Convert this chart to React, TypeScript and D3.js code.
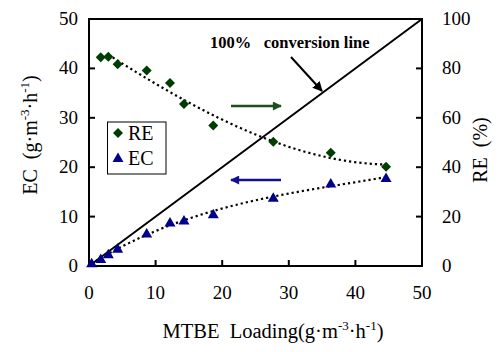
import React from "react";
import * as d3 from "d3";

const reLoading = [1.76, 2.9, 4.3, 8.66, 12.16, 14.26, 18.66, 27.67, 36.3, 44.6];
const reValues = [84.5, 84.7, 81.7, 79.2, 74.1, 65.6, 56.9, 50.3, 45.9, 40.2];
const ecLoading = [0.4, 1.76, 2.9, 4.3, 8.66, 12.16, 14.26, 18.66, 27.67, 36.3, 44.6];
const ecValues = [0.55, 1.4, 2.37, 3.5, 6.6, 8.8, 9.2, 10.5, 13.8, 16.7, 17.8];
const xTicks = [0, 10, 20, 30, 40, 50];
const ecTicks = [0, 10, 20, 30, 40, 50];
const reTicks = [0, 20, 40, 60, 80, 100];

function polyFit(xs: number[], ys: number[], deg: number): number[] {
  const n = deg + 1;
  const A: number[][] = Array.from({ length: n }, () => new Array(n + 1).fill(0));
  for (let i = 0; i < xs.length; i++) {
    for (let r = 0; r < n; r++) {
      for (let c = 0; c < n; c++) A[r][c] += Math.pow(xs[i], r + c);
      A[r][n] += ys[i] * Math.pow(xs[i], r);
    }
  }
  for (let col = 0; col < n; col++) {
    let piv = col;
    for (let r = col + 1; r < n; r++) if (Math.abs(A[r][col]) > Math.abs(A[piv][col])) piv = r;
    [A[col], A[piv]] = [A[piv], A[col]];
    for (let r = 0; r < n; r++) {
      if (r === col) continue;
      const f = A[r][col] / A[col][col];
      for (let c = col; c <= n; c++) A[r][c] -= f * A[col][c];
    }
  }
  return A.map((row, i) => row[n] / row[i]);
}
const evalPoly = (co: number[], x: number) => co.reduce((s, c, i) => s + c * Math.pow(x, i), 0);

const FONT = "Liberation Serif, Times New Roman, DejaVu Serif, serif";

export default function App() {
  const W = 498, H = 352;
  const L = 89, R = 422, T = 19, B = 266;
  const x = d3.scaleLinear().domain([0, 50]).range([L, R]);
  const yL = d3.scaleLinear().domain([0, 50]).range([B, T]);
  const yR = d3.scaleLinear().domain([0, 100]).range([B, T]);

  const reCo = polyFit(reLoading.slice(1), reValues.slice(1), 3);
  const ecCo = polyFit(ecLoading, ecValues, 3);
  const reTrendX = d3.range(reLoading[1], reLoading[reLoading.length - 1] + 0.01, 0.5);
  const ecTrendX = d3.range(ecLoading[0], ecLoading[ecLoading.length - 1] + 0.01, 0.5);
  const reLine = d3.line<number>().x((d) => x(d)).y((d) => yR(evalPoly(reCo, d)));
  const ecLine = d3.line<number>().x((d) => x(d)).y((d) => yL(evalPoly(ecCo, d)));
  const diag = d3.line<number>().x((d) => x(d)).y((d) => yL(d));

  const diamond = (cx: number, cy: number, r = 5) =>
    `M${cx},${cy - r}L${cx + r},${cy}L${cx},${cy + r}L${cx - r},${cy}Z`;
  const triangle = (cx: number, cy: number) =>
    `M${cx},${cy - 5.5}L${cx + 5.5},${cy + 4}L${cx - 5.5},${cy + 4}Z`;

  const green = "#003d00";
  const navy = "#00008b";
  const ts = { fontFamily: FONT } as React.CSSProperties;
  const tsPre = { fontFamily: FONT, whiteSpace: "pre" } as React.CSSProperties;

  return (
    <svg width={W} height={H} style={{ position: "absolute", left: 0, top: 0, background: "#fff", fontFamily: FONT }}>
      <defs>
        <marker id="ahBlack" viewBox="0 0 10 10" refX="9" refY="5" markerWidth="10" markerHeight="10"
          markerUnits="userSpaceOnUse" orient="auto">
          <path d="M0,0L10,5L0,10Z" fill="#000" />
        </marker>
        <marker id="ahGreen" viewBox="0 0 10 10" refX="9" refY="5" markerWidth="10" markerHeight="9"
          markerUnits="userSpaceOnUse" orient="auto">
          <path d="M0,0L10,5L0,10Z" fill="#1e4d1e" />
        </marker>
        <marker id="ahBlue" viewBox="0 0 10 10" refX="9" refY="5" markerWidth="10" markerHeight="9"
          markerUnits="userSpaceOnUse" orient="auto">
          <path d="M0,0L10,5L0,10Z" fill="#101090" />
        </marker>
      </defs>

      {/* 100% conversion line */}
      <path d={diag([0, 50]) || ""} stroke="#000" strokeWidth={2} fill="none" />

      {/* trends */}
      <path d={reLine(reTrendX) || ""} stroke="#000" strokeWidth={2.2} strokeDasharray="2.2,3" fill="none" />
      <path d={ecLine(ecTrendX) || ""} stroke="#000" strokeWidth={2.2} strokeDasharray="2.2,3" fill="none" />

      {/* axes frame */}
      <rect x={L} y={T} width={R - L} height={B - T} fill="none" stroke="#000" strokeWidth={2} />

      {/* ticks */}
      {xTicks.slice(1, -1).map((t) => (
        <line key={"xt" + t} x1={x(t)} x2={x(t)} y1={B} y2={B - 6} stroke="#000" strokeWidth={2} />
      ))}
      {ecTicks.slice(1, -1).map((t) => (
        <line key={"yl" + t} x1={L} x2={L + 6} y1={yL(t)} y2={yL(t)} stroke="#000" strokeWidth={2} />
      ))}
      {reTicks.slice(1, -1).map((t) => (
        <line key={"yr" + t} x1={R} x2={R - 6} y1={yR(t)} y2={yR(t)} stroke="#000" strokeWidth={2} />
      ))}

      {/* tick labels */}
      {xTicks.map((t) => (
        <text key={"xl" + t} x={x(t)} y={B + 33} textAnchor="middle" fontSize={19} style={ts}>{t}</text>
      ))}
      {ecTicks.map((t) => (
        <text key={"yll" + t} x={78} y={yL(t) + 6} textAnchor="end" fontSize={19} style={ts}>{t}</text>
      ))}
      {reTicks.map((t) => (
        <text key={"yrl" + t} x={442} y={yR(t) + 6} textAnchor="start" fontSize={19} style={ts}>{t}</text>
      ))}

      {/* markers */}
      {ecLoading.map((d, i) => (
        <path key={"ec" + i} d={triangle(x(d), yL(ecValues[i]))} fill={navy} />
      ))}
      {reLoading.map((d, i) => (
        <path key={"re" + i} d={diamond(x(d), yR(reValues[i]))} fill={green} />
      ))}

      {/* annotation */}
      <text x={210} y={48} fontSize={16.5} fontWeight="bold" style={tsPre}>100%   conversion line</text>
      <line x1={291} y1={57} x2={322} y2={91} stroke="#000" strokeWidth={2} markerEnd="url(#ahBlack)" />
      <line x1={231} y1={106} x2={281} y2={106} stroke="#1e4d1e" strokeWidth={2.5} markerEnd="url(#ahGreen)" />
      <line x1={281} y1={180} x2={231} y2={180} stroke="#101090" strokeWidth={2.5} markerEnd="url(#ahBlue)" />

      {/* legend */}
      <rect x={107.5} y={122} width={58.5} height={52} fill="#fff" stroke="#000" strokeWidth={1} />
      <path d={diamond(118, 133, 5)} fill={green} />
      <text x={128} y={140} fontSize={20} style={ts}>RE</text>
      <path d={triangle(118, 158)} fill={navy} />
      <text x={128} y={165} fontSize={20} style={ts}>EC</text>

      {/* axis titles */}
      <text x={273} y={338} textAnchor="middle" fontSize={20.5} style={tsPre}>
        MTBE  Loading(g·m<tspan dy={-8} fontSize={13}>-3</tspan><tspan dy={8}>·h</tspan>
        <tspan dy={-8} fontSize={13}>-1</tspan><tspan dy={8}>)</tspan>
      </text>
      <text transform="translate(37,135) rotate(-90)" textAnchor="middle" fontSize={20} style={tsPre}>
        EC  (g·m<tspan dy={-8} fontSize={13}>-3</tspan><tspan dy={8}>·h</tspan>
        <tspan dy={-8} fontSize={13}>-1</tspan><tspan dy={8}>)</tspan>
      </text>
      <text transform="translate(487,150) rotate(-90)" textAnchor="middle" fontSize={20} style={tsPre}>
        RE  (%)
      </text>
    </svg>
  );
}
